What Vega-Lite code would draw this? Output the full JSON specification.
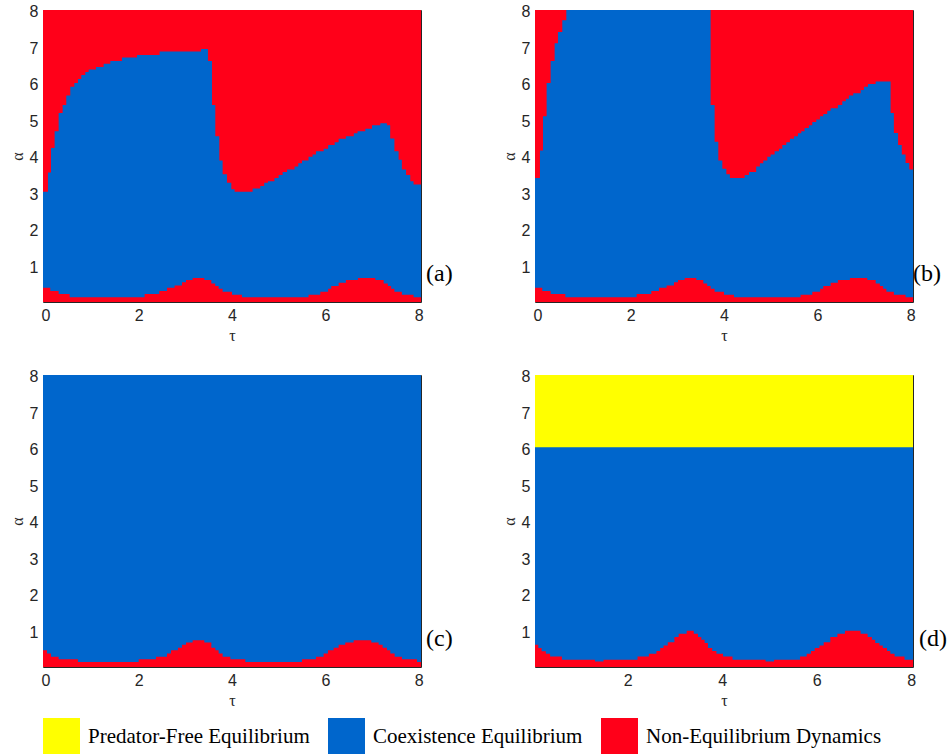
{
  "$schema": "https://vega.github.io/schema/vega-lite/v6.json",
  "background": "white",
  "padding": {"left": 9, "top": 3, "right": 2, "bottom": 2},
  "bounds": "flush",
  "columns": 2,
  "spacing": {"row": 73, "column": 114},
  "config": {
    "view": {"stroke": null},
    "font": "Liberation Sans",
    "axis": {
      "grid": false, "domain": true, "domainColor": "#262626", "domainWidth": 1,
      "ticks": true, "tickColor": "#262626", "tickSize": -4, "tickWidth": 1,
      "labelFont": "Liberation Sans", "labelFontSize": 16, "labelColor": "#262626", "labelPadding": 9,
      "titleFont": "Liberation Serif", "titleFontSize": 16, "titleFontWeight": "normal", "titleColor": "#262626",
      "titlePadding": 4, "zindex": 1
    },
    "legend": {
      "orient": "bottom", "direction": "horizontal", "symbolType": "square", "symbolSize": 1369,
      "symbolStrokeWidth": 0, "labelFont": "Liberation Serif", "labelFontSize": 21, "labelColor": "black",
      "labelLimit": 400, "labelOffset": 8, "columnPadding": 18, "offset": 10, "padding": 0
    }
  },
  "datasets": {
    "bg": [
      {"p": "a", "region": "Non-Equilibrium Dynamics", "label": "(a)"},
      {"p": "b", "region": "Non-Equilibrium Dynamics", "label": "(b)"},
      {"p": "c", "region": "Coexistence Equilibrium", "label": "(c)"},
      {"p": "d", "region": "Predator-Free Equilibrium", "label": "(d)"}
    ],
    "top": [
      {"p": "a", "t": -0.05, "v": 3.07}, {"p": "a", "t": 0.056, "v": 3.6}, {"p": "a", "t": 0.121, "v": 4.27},
      {"p": "a", "t": 0.199, "v": 4.73}, {"p": "a", "t": 0.285, "v": 5.23}, {"p": "a", "t": 0.371, "v": 5.45},
      {"p": "a", "t": 0.449, "v": 5.71}, {"p": "a", "t": 0.535, "v": 5.95}, {"p": "a", "t": 0.621, "v": 6.05},
      {"p": "a", "t": 0.699, "v": 6.16}, {"p": "a", "t": 0.771, "v": 6.27}, {"p": "a", "t": 0.856, "v": 6.35},
      {"p": "a", "t": 0.928, "v": 6.42}, {"p": "a", "t": 1.085, "v": 6.49}, {"p": "a", "t": 1.249, "v": 6.58},
      {"p": "a", "t": 1.392, "v": 6.65}, {"p": "a", "t": 1.642, "v": 6.75}, {"p": "a", "t": 1.964, "v": 6.82},
      {"p": "a", "t": 2.449, "v": 6.91}, {"p": "a", "t": 3.335, "v": 6.98}, {"p": "a", "t": 3.485, "v": 6.65},
      {"p": "a", "t": 3.571, "v": 5.45}, {"p": "a", "t": 3.642, "v": 4.59}, {"p": "a", "t": 3.728, "v": 3.93},
      {"p": "a", "t": 3.799, "v": 3.55}, {"p": "a", "t": 3.892, "v": 3.32}, {"p": "a", "t": 3.985, "v": 3.14},
      {"p": "a", "t": 4.056, "v": 3.07}, {"p": "a", "t": 4.442, "v": 3.16}, {"p": "a", "t": 4.606, "v": 3.23},
      {"p": "a", "t": 4.69, "v": 3.32}, {"p": "a", "t": 4.77, "v": 3.36}, {"p": "a", "t": 4.91, "v": 3.45},
      {"p": "a", "t": 5.0, "v": 3.53}, {"p": "a", "t": 5.085, "v": 3.61}, {"p": "a", "t": 5.18, "v": 3.68},
      {"p": "a", "t": 5.34, "v": 3.76}, {"p": "a", "t": 5.42, "v": 3.85}, {"p": "a", "t": 5.5, "v": 3.93},
      {"p": "a", "t": 5.64, "v": 4.03}, {"p": "a", "t": 5.727, "v": 4.09}, {"p": "a", "t": 5.8, "v": 4.18},
      {"p": "a", "t": 5.964, "v": 4.25}, {"p": "a", "t": 6.06, "v": 4.35}, {"p": "a", "t": 6.2, "v": 4.43},
      {"p": "a", "t": 6.285, "v": 4.52}, {"p": "a", "t": 6.44, "v": 4.59}, {"p": "a", "t": 6.61, "v": 4.67},
      {"p": "a", "t": 6.69, "v": 4.73}, {"p": "a", "t": 6.856, "v": 4.8}, {"p": "a", "t": 7.0, "v": 4.89},
      {"p": "a", "t": 7.177, "v": 4.95}, {"p": "a", "t": 7.32, "v": 4.89}, {"p": "a", "t": 7.39, "v": 4.53},
      {"p": "a", "t": 7.48, "v": 4.18}, {"p": "a", "t": 7.57, "v": 3.95}, {"p": "a", "t": 7.64, "v": 3.68},
      {"p": "a", "t": 7.73, "v": 3.53}, {"p": "a", "t": 7.82, "v": 3.36}, {"p": "a", "t": 7.89, "v": 3.27},
      {"p": "a", "t": 8.05, "v": 3.27},

      {"p": "b", "t": -0.05, "v": 3.45}, {"p": "b", "t": 0.056, "v": 4.2}, {"p": "b", "t": 0.121, "v": 5.14},
      {"p": "b", "t": 0.199, "v": 6.05}, {"p": "b", "t": 0.285, "v": 6.65}, {"p": "b", "t": 0.371, "v": 7.14},
      {"p": "b", "t": 0.442, "v": 7.45}, {"p": "b", "t": 0.535, "v": 7.77}, {"p": "b", "t": 0.621, "v": 8.05},
      {"p": "b", "t": 3.713, "v": 5.45}, {"p": "b", "t": 3.799, "v": 4.44}, {"p": "b", "t": 3.878, "v": 3.93},
      {"p": "b", "t": 3.964, "v": 3.7}, {"p": "b", "t": 4.05, "v": 3.55}, {"p": "b", "t": 4.127, "v": 3.45},
      {"p": "b", "t": 4.442, "v": 3.53}, {"p": "b", "t": 4.535, "v": 3.61}, {"p": "b", "t": 4.69, "v": 3.76},
      {"p": "b", "t": 4.77, "v": 3.85}, {"p": "b", "t": 4.842, "v": 3.93}, {"p": "b", "t": 4.928, "v": 4.03},
      {"p": "b", "t": 5.0, "v": 4.09}, {"p": "b", "t": 5.085, "v": 4.18}, {"p": "b", "t": 5.178, "v": 4.25},
      {"p": "b", "t": 5.25, "v": 4.35}, {"p": "b", "t": 5.335, "v": 4.43}, {"p": "b", "t": 5.413, "v": 4.52},
      {"p": "b", "t": 5.5, "v": 4.59}, {"p": "b", "t": 5.585, "v": 4.67}, {"p": "b", "t": 5.656, "v": 4.73},
      {"p": "b", "t": 5.727, "v": 4.82}, {"p": "b", "t": 5.82, "v": 4.89}, {"p": "b", "t": 5.892, "v": 4.98},
      {"p": "b", "t": 5.978, "v": 5.05}, {"p": "b", "t": 6.056, "v": 5.14}, {"p": "b", "t": 6.127, "v": 5.2},
      {"p": "b", "t": 6.213, "v": 5.29}, {"p": "b", "t": 6.285, "v": 5.36}, {"p": "b", "t": 6.44, "v": 5.45},
      {"p": "b", "t": 6.535, "v": 5.55}, {"p": "b", "t": 6.61, "v": 5.62}, {"p": "b", "t": 6.677, "v": 5.71},
      {"p": "b", "t": 6.77, "v": 5.77}, {"p": "b", "t": 6.928, "v": 5.86}, {"p": "b", "t": 7.0, "v": 5.95},
      {"p": "b", "t": 7.085, "v": 6.02}, {"p": "b", "t": 7.25, "v": 6.09}, {"p": "b", "t": 7.57, "v": 5.23},
      {"p": "b", "t": 7.64, "v": 4.68}, {"p": "b", "t": 7.73, "v": 4.35}, {"p": "b", "t": 7.81, "v": 4.09},
      {"p": "b", "t": 7.89, "v": 3.86}, {"p": "b", "t": 7.97, "v": 3.68}, {"p": "b", "t": 8.05, "v": 3.68},

      {"p": "d", "t": 0.04, "v": 6.07}, {"p": "d", "t": 8.04, "v": 6.07}
    ],
    "low": [
      {"p": "a", "t": -0.05, "v": 0.44}, {"p": "a", "t": 0.106, "v": 0.35}, {"p": "a", "t": 0.285, "v": 0.27},
      {"p": "a", "t": 0.521, "v": 0.18}, {"p": "a", "t": 2.128, "v": 0.27}, {"p": "a", "t": 2.442, "v": 0.35},
      {"p": "a", "t": 2.607, "v": 0.44}, {"p": "a", "t": 2.77, "v": 0.5}, {"p": "a", "t": 2.928, "v": 0.59},
      {"p": "a", "t": 3.014, "v": 0.65}, {"p": "a", "t": 3.157, "v": 0.71}, {"p": "a", "t": 3.407, "v": 0.65},
      {"p": "a", "t": 3.557, "v": 0.56}, {"p": "a", "t": 3.64, "v": 0.49}, {"p": "a", "t": 3.714, "v": 0.41},
      {"p": "a", "t": 3.799, "v": 0.33}, {"p": "a", "t": 4.0, "v": 0.25}, {"p": "a", "t": 4.213, "v": 0.18},
      {"p": "a", "t": 5.64, "v": 0.25}, {"p": "a", "t": 5.892, "v": 0.33}, {"p": "a", "t": 6.06, "v": 0.41},
      {"p": "a", "t": 6.127, "v": 0.49}, {"p": "a", "t": 6.285, "v": 0.58}, {"p": "a", "t": 6.44, "v": 0.65},
      {"p": "a", "t": 6.699, "v": 0.71}, {"p": "a", "t": 7.07, "v": 0.65}, {"p": "a", "t": 7.25, "v": 0.56},
      {"p": "a", "t": 7.34, "v": 0.49}, {"p": "a", "t": 7.41, "v": 0.41}, {"p": "a", "t": 7.48, "v": 0.33},
      {"p": "a", "t": 7.64, "v": 0.25}, {"p": "a", "t": 7.89, "v": 0.18}, {"p": "a", "t": 8.05, "v": 0.18},

      {"p": "b", "t": -0.05, "v": 0.44}, {"p": "b", "t": 0.106, "v": 0.35}, {"p": "b", "t": 0.285, "v": 0.27},
      {"p": "b", "t": 0.6, "v": 0.18}, {"p": "b", "t": 2.128, "v": 0.27}, {"p": "b", "t": 2.442, "v": 0.35},
      {"p": "b", "t": 2.607, "v": 0.44}, {"p": "b", "t": 2.77, "v": 0.5}, {"p": "b", "t": 2.928, "v": 0.59},
      {"p": "b", "t": 3.014, "v": 0.65}, {"p": "b", "t": 3.157, "v": 0.71}, {"p": "b", "t": 3.407, "v": 0.65},
      {"p": "b", "t": 3.557, "v": 0.56}, {"p": "b", "t": 3.64, "v": 0.49}, {"p": "b", "t": 3.714, "v": 0.41},
      {"p": "b", "t": 3.799, "v": 0.33}, {"p": "b", "t": 4.0, "v": 0.25}, {"p": "b", "t": 4.213, "v": 0.18},
      {"p": "b", "t": 5.64, "v": 0.25}, {"p": "b", "t": 5.892, "v": 0.33}, {"p": "b", "t": 6.06, "v": 0.41},
      {"p": "b", "t": 6.127, "v": 0.49}, {"p": "b", "t": 6.285, "v": 0.58}, {"p": "b", "t": 6.44, "v": 0.65},
      {"p": "b", "t": 6.699, "v": 0.71}, {"p": "b", "t": 7.07, "v": 0.65}, {"p": "b", "t": 7.25, "v": 0.56},
      {"p": "b", "t": 7.34, "v": 0.49}, {"p": "b", "t": 7.41, "v": 0.41}, {"p": "b", "t": 7.48, "v": 0.33},
      {"p": "b", "t": 7.64, "v": 0.25}, {"p": "b", "t": 7.89, "v": 0.18}, {"p": "b", "t": 8.05, "v": 0.18},

      {"p": "c", "t": -0.05, "v": 0.51}, {"p": "c", "t": 0.035, "v": 0.42}, {"p": "c", "t": 0.121, "v": 0.33},
      {"p": "c", "t": 0.285, "v": 0.26}, {"p": "c", "t": 0.699, "v": 0.19}, {"p": "c", "t": 2.0, "v": 0.26},
      {"p": "c", "t": 2.371, "v": 0.33}, {"p": "c", "t": 2.607, "v": 0.42}, {"p": "c", "t": 2.692, "v": 0.51},
      {"p": "c", "t": 2.842, "v": 0.58}, {"p": "c", "t": 2.928, "v": 0.66}, {"p": "c", "t": 3.014, "v": 0.72},
      {"p": "c", "t": 3.157, "v": 0.78}, {"p": "c", "t": 3.407, "v": 0.72}, {"p": "c", "t": 3.557, "v": 0.58},
      {"p": "c", "t": 3.642, "v": 0.51}, {"p": "c", "t": 3.714, "v": 0.42}, {"p": "c", "t": 3.799, "v": 0.33},
      {"p": "c", "t": 3.964, "v": 0.26}, {"p": "c", "t": 4.285, "v": 0.19}, {"p": "c", "t": 5.499, "v": 0.26},
      {"p": "c", "t": 5.799, "v": 0.33}, {"p": "c", "t": 5.963, "v": 0.42}, {"p": "c", "t": 6.056, "v": 0.51},
      {"p": "c", "t": 6.178, "v": 0.58}, {"p": "c", "t": 6.285, "v": 0.66}, {"p": "c", "t": 6.427, "v": 0.72},
      {"p": "c", "t": 6.606, "v": 0.78}, {"p": "c", "t": 6.985, "v": 0.72}, {"p": "c", "t": 7.142, "v": 0.66},
      {"p": "c", "t": 7.228, "v": 0.58}, {"p": "c", "t": 7.32, "v": 0.51}, {"p": "c", "t": 7.392, "v": 0.42},
      {"p": "c", "t": 7.485, "v": 0.33}, {"p": "c", "t": 7.642, "v": 0.26}, {"p": "c", "t": 7.964, "v": 0.19},
      {"p": "c", "t": 8.05, "v": 0.19},

      {"p": "d", "t": 0.04, "v": 0.66}, {"p": "d", "t": 0.11, "v": 0.57}, {"p": "d", "t": 0.18, "v": 0.48},
      {"p": "d", "t": 0.27, "v": 0.41}, {"p": "d", "t": 0.36, "v": 0.34}, {"p": "d", "t": 0.61, "v": 0.25},
      {"p": "d", "t": 1.31, "v": 0.2}, {"p": "d", "t": 1.49, "v": 0.25}, {"p": "d", "t": 2.21, "v": 0.34},
      {"p": "d", "t": 2.45, "v": 0.41}, {"p": "d", "t": 2.61, "v": 0.49}, {"p": "d", "t": 2.69, "v": 0.57},
      {"p": "d", "t": 2.76, "v": 0.64}, {"p": "d", "t": 2.85, "v": 0.73}, {"p": "d", "t": 2.99, "v": 0.87},
      {"p": "d", "t": 3.08, "v": 0.96}, {"p": "d", "t": 3.25, "v": 1.04}, {"p": "d", "t": 3.4, "v": 0.96},
      {"p": "d", "t": 3.49, "v": 0.87}, {"p": "d", "t": 3.56, "v": 0.8}, {"p": "d", "t": 3.63, "v": 0.71},
      {"p": "d", "t": 3.7, "v": 0.57}, {"p": "d", "t": 3.79, "v": 0.49}, {"p": "d", "t": 3.88, "v": 0.41},
      {"p": "d", "t": 4.02, "v": 0.34}, {"p": "d", "t": 4.22, "v": 0.25}, {"p": "d", "t": 4.92, "v": 0.2},
      {"p": "d", "t": 5.1, "v": 0.25}, {"p": "d", "t": 5.65, "v": 0.34}, {"p": "d", "t": 5.79, "v": 0.41},
      {"p": "d", "t": 5.88, "v": 0.49}, {"p": "d", "t": 5.96, "v": 0.57}, {"p": "d", "t": 6.06, "v": 0.64},
      {"p": "d", "t": 6.15, "v": 0.73}, {"p": "d", "t": 6.29, "v": 0.87}, {"p": "d", "t": 6.44, "v": 0.96},
      {"p": "d", "t": 6.6, "v": 1.04}, {"p": "d", "t": 6.93, "v": 0.96}, {"p": "d", "t": 7.08, "v": 0.87},
      {"p": "d", "t": 7.17, "v": 0.8}, {"p": "d", "t": 7.24, "v": 0.71}, {"p": "d", "t": 7.33, "v": 0.64},
      {"p": "d", "t": 7.4, "v": 0.57}, {"p": "d", "t": 7.49, "v": 0.49}, {"p": "d", "t": 7.56, "v": 0.41},
      {"p": "d", "t": 7.65, "v": 0.34}, {"p": "d", "t": 7.86, "v": 0.25}, {"p": "d", "t": 8.04, "v": 0.25}
    ]
  },
  "concat": [
    {
      "width": 378, "height": 292,
      "resolve": {"axis": {"x": "independent", "y": "independent"}},
      "layer": [
        {"data": {"name": "bg"}, "transform": [{"filter": "datum.p == 'a'"}],
         "mark": {"type": "rect", "clip": true},
         "encoding": {
           "x": {"datum": -0.05, "type": "quantitative", "scale": {"domain": [-0.05, 8.05], "nice": false, "zero": false}, "axis": {"values": [0, 2, 4, 6, 8], "title": "τ"}},
           "x2": {"datum": 8.05},
           "y": {"datum": 0.05, "type": "quantitative", "scale": {"domain": [0.05, 8.05], "nice": false, "zero": false}, "axis": {"values": [1, 2, 3, 4, 5, 6, 7, 8], "title": "α"}},
           "y2": {"datum": 8.05},
           "color": {"field": "region", "type": "nominal", "scale": {"domain": ["Predator-Free Equilibrium", "Coexistence Equilibrium", "Non-Equilibrium Dynamics"], "range": ["#ffff00", "#0066cc", "#ff0019"]}, "legend": {"title": null}}
         }},
        {"data": {"name": "top"}, "transform": [{"filter": "datum.p == 'a'"}],
         "mark": {"type": "area", "interpolate": "step-after", "clip": true, "opacity": 1},
         "encoding": {
           "x": {"field": "t", "type": "quantitative", "axis": null},
           "y": {"field": "v", "type": "quantitative", "stack": null, "axis": null},
           "y2": {"datum": 0.05},
           "color": {"datum": "Coexistence Equilibrium", "type": "nominal", "legend": null}
         }},
        {"data": {"name": "low"}, "transform": [{"filter": "datum.p == 'a'"}],
         "mark": {"type": "area", "interpolate": "step-after", "clip": true, "opacity": 1},
         "encoding": {
           "x": {"field": "t", "type": "quantitative", "axis": null},
           "y": {"field": "v", "type": "quantitative", "stack": null, "axis": null},
           "y2": {"datum": 0.05},
           "color": {"datum": "Non-Equilibrium Dynamics", "type": "nominal", "legend": null}
         }},
        {"data": {"name": "bg"}, "transform": [{"filter": "datum.p == 'a'"}],
         "mark": {"type": "text", "font": "Liberation Serif", "fontSize": 24, "align": "left", "baseline": "middle", "dx": 5, "color": "black"},
         "encoding": {
           "text": {"field": "label"},
           "x": {"datum": 8.05, "type": "quantitative", "axis": {"orient": "top", "labels": false, "title": null, "values": [0, 2, 4, 6, 8]}},
           "y": {"datum": 0.83, "type": "quantitative", "axis": {"orient": "right", "labels": false, "title": null, "values": [1, 2, 3, 4, 5, 6, 7, 8]}}
         }}
      ]
    },
    {
      "width": 378, "height": 292,
      "resolve": {"axis": {"x": "independent", "y": "independent"}},
      "layer": [
        {"data": {"name": "bg"}, "transform": [{"filter": "datum.p == 'b'"}],
         "mark": {"type": "rect", "clip": true},
         "encoding": {
           "x": {"datum": -0.05, "type": "quantitative", "scale": {"domain": [-0.05, 8.05], "nice": false, "zero": false}, "axis": {"values": [0, 2, 4, 6, 8], "title": "τ"}},
           "x2": {"datum": 8.05},
           "y": {"datum": 0.05, "type": "quantitative", "scale": {"domain": [0.05, 8.05], "nice": false, "zero": false}, "axis": {"values": [1, 2, 3, 4, 5, 6, 7, 8], "title": "α"}},
           "y2": {"datum": 8.05},
           "color": {"field": "region", "type": "nominal", "scale": {"domain": ["Predator-Free Equilibrium", "Coexistence Equilibrium", "Non-Equilibrium Dynamics"], "range": ["#ffff00", "#0066cc", "#ff0019"]}, "legend": {"title": null}}
         }},
        {"data": {"name": "top"}, "transform": [{"filter": "datum.p == 'b'"}],
         "mark": {"type": "area", "interpolate": "step-after", "clip": true, "opacity": 1},
         "encoding": {
           "x": {"field": "t", "type": "quantitative", "axis": null},
           "y": {"field": "v", "type": "quantitative", "stack": null, "axis": null},
           "y2": {"datum": 0.05},
           "color": {"datum": "Coexistence Equilibrium", "type": "nominal", "legend": null}
         }},
        {"data": {"name": "low"}, "transform": [{"filter": "datum.p == 'b'"}],
         "mark": {"type": "area", "interpolate": "step-after", "clip": true, "opacity": 1},
         "encoding": {
           "x": {"field": "t", "type": "quantitative", "axis": null},
           "y": {"field": "v", "type": "quantitative", "stack": null, "axis": null},
           "y2": {"datum": 0.05},
           "color": {"datum": "Non-Equilibrium Dynamics", "type": "nominal", "legend": null}
         }},
        {"data": {"name": "bg"}, "transform": [{"filter": "datum.p == 'b'"}],
         "mark": {"type": "text", "font": "Liberation Serif", "fontSize": 24, "align": "left", "baseline": "middle", "dx": 0, "color": "black"},
         "encoding": {
           "text": {"field": "label"},
           "x": {"datum": 8.05, "type": "quantitative", "axis": {"orient": "top", "labels": false, "title": null, "values": [0, 2, 4, 6, 8]}},
           "y": {"datum": 0.83, "type": "quantitative", "axis": {"orient": "right", "labels": false, "title": null, "values": [1, 2, 3, 4, 5, 6, 7, 8]}}
         }}
      ]
    },
    {
      "width": 378, "height": 292,
      "resolve": {"axis": {"x": "independent", "y": "independent"}},
      "layer": [
        {"data": {"name": "bg"}, "transform": [{"filter": "datum.p == 'c'"}],
         "mark": {"type": "rect", "clip": true},
         "encoding": {
           "x": {"datum": -0.05, "type": "quantitative", "scale": {"domain": [-0.05, 8.05], "nice": false, "zero": false}, "axis": {"values": [0, 2, 4, 6, 8], "title": "τ"}},
           "x2": {"datum": 8.05},
           "y": {"datum": 0.05, "type": "quantitative", "scale": {"domain": [0.05, 8.05], "nice": false, "zero": false}, "axis": {"values": [1, 2, 3, 4, 5, 6, 7, 8], "title": "α"}},
           "y2": {"datum": 8.05},
           "color": {"field": "region", "type": "nominal", "scale": {"domain": ["Predator-Free Equilibrium", "Coexistence Equilibrium", "Non-Equilibrium Dynamics"], "range": ["#ffff00", "#0066cc", "#ff0019"]}, "legend": {"title": null}}
         }},
        {"data": {"name": "low"}, "transform": [{"filter": "datum.p == 'c'"}],
         "mark": {"type": "area", "interpolate": "step-after", "clip": true, "opacity": 1},
         "encoding": {
           "x": {"field": "t", "type": "quantitative", "axis": null},
           "y": {"field": "v", "type": "quantitative", "stack": null, "axis": null},
           "y2": {"datum": 0.05},
           "color": {"datum": "Non-Equilibrium Dynamics", "type": "nominal", "legend": null}
         }},
        {"data": {"name": "bg"}, "transform": [{"filter": "datum.p == 'c'"}],
         "mark": {"type": "text", "font": "Liberation Serif", "fontSize": 24, "align": "left", "baseline": "middle", "dx": 5, "color": "black"},
         "encoding": {
           "text": {"field": "label"},
           "x": {"datum": 8.05, "type": "quantitative", "axis": {"orient": "top", "labels": false, "title": null, "values": [0, 2, 4, 6, 8]}},
           "y": {"datum": 0.83, "type": "quantitative", "axis": {"orient": "right", "labels": false, "title": null, "values": [1, 2, 3, 4, 5, 6, 7, 8]}}
         }}
      ]
    },
    {
      "width": 378, "height": 292,
      "resolve": {"axis": {"x": "independent", "y": "independent"}},
      "layer": [
        {"data": {"name": "bg"}, "transform": [{"filter": "datum.p == 'd'"}],
         "mark": {"type": "rect", "clip": true},
         "encoding": {
           "x": {"datum": 0.04, "type": "quantitative", "scale": {"domain": [0.04, 8.04], "nice": false, "zero": false}, "axis": {"values": [2, 4, 6, 8], "title": "τ"}},
           "x2": {"datum": 8.04},
           "y": {"datum": 0.05, "type": "quantitative", "scale": {"domain": [0.05, 8.05], "nice": false, "zero": false}, "axis": {"values": [1, 2, 3, 4, 5, 6, 7, 8], "title": "α"}},
           "y2": {"datum": 8.05},
           "color": {"field": "region", "type": "nominal", "scale": {"domain": ["Predator-Free Equilibrium", "Coexistence Equilibrium", "Non-Equilibrium Dynamics"], "range": ["#ffff00", "#0066cc", "#ff0019"]}, "legend": {"title": null}}
         }},
        {"data": {"name": "top"}, "transform": [{"filter": "datum.p == 'd'"}],
         "mark": {"type": "area", "interpolate": "step-after", "clip": true, "opacity": 1},
         "encoding": {
           "x": {"field": "t", "type": "quantitative", "axis": null},
           "y": {"field": "v", "type": "quantitative", "stack": null, "axis": null},
           "y2": {"datum": 0.05},
           "color": {"datum": "Coexistence Equilibrium", "type": "nominal", "legend": null}
         }},
        {"data": {"name": "low"}, "transform": [{"filter": "datum.p == 'd'"}],
         "mark": {"type": "area", "interpolate": "step-after", "clip": true, "opacity": 1},
         "encoding": {
           "x": {"field": "t", "type": "quantitative", "axis": null},
           "y": {"field": "v", "type": "quantitative", "stack": null, "axis": null},
           "y2": {"datum": 0.05},
           "color": {"datum": "Non-Equilibrium Dynamics", "type": "nominal", "legend": null}
         }},
        {"data": {"name": "bg"}, "transform": [{"filter": "datum.p == 'd'"}],
         "mark": {"type": "text", "font": "Liberation Serif", "fontSize": 24, "align": "left", "baseline": "middle", "dx": 6, "color": "black"},
         "encoding": {
           "text": {"field": "label"},
           "x": {"datum": 8.04, "type": "quantitative", "axis": {"orient": "top", "labels": false, "title": null, "values": [2, 4, 6, 8]}},
           "y": {"datum": 0.83, "type": "quantitative", "axis": {"orient": "right", "labels": false, "title": null, "values": [1, 2, 3, 4, 5, 6, 7, 8]}}
         }}
      ]
    }
  ]
}
